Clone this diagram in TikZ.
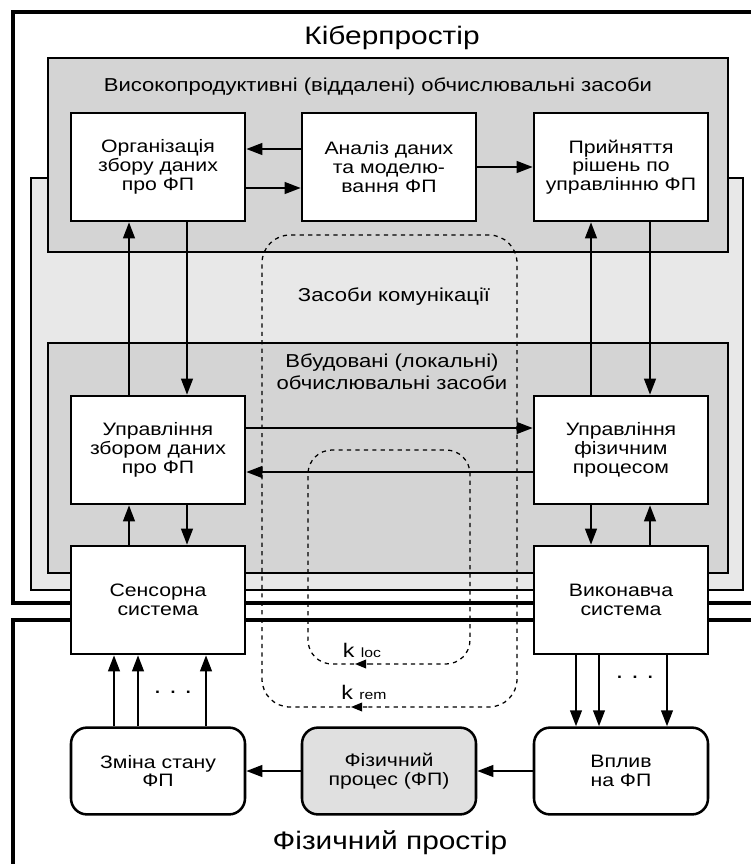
\documentclass[tikz,border=0pt]{standalone}
\usepackage{fontspec}
\setmainfont[FakeStretch=1.18]{Liberation Sans}
\usetikzlibrary{arrows.meta,decorations.markings}
\def\darr{\draw[flow]}
\def\dloop{\draw[fbloop]}

\begin{document}
\begin{tikzpicture}[x=0.25mm,y=-0.25mm,
    box/.style={draw,line width=1.8pt,fill=white,align=center,inner sep=0pt,
                minimum width=43.5mm,minimum height=27mm,
                font=\fontsize{12.8}{13.3}\selectfont},
    rbox/.style={box,rounded corners=4mm,minimum height=21.7mm},
    area/.style={draw,line width=1.9pt},
    border/.style={line width=2.6pt},
    flow/.style={line width=1.6pt,-{Triangle[length=4mm,width=2.9mm]}},
    fbloop/.style={dashed,line width=0.9pt,
                   postaction={decorate},
                   decoration={markings,
                     mark=at position 4mm with {\arrow{Triangle[length=2.8mm,width=2.2mm]}}}},
    title/.style={font=\fontsize{18}{20}\selectfont},
    label/.style={align=center,font=\fontsize{13.3}{15.5}\selectfont}]
  \useasboundingbox (0,0) rectangle (751,864);
  % spaces
  \draw[border] (751,12) -- (13,12) -- (13,603) -- (751,603);
  \draw[border] (751,620) -- (13,620) -- (13,870);
  \draw[area,fill=black!9] (31,178) rectangle (743,590);
  \draw[area,fill=black!17] (48,58) rectangle (728,252);
  \draw[area,fill=black!17] (48,343) rectangle (728,573);
  \node[title] (cyber) at (392,38) {Кіберпростір};
  \node[label] (hpc) at (378,87) {Високопродуктивні (віддалені) обчислювальні засоби};
  \node[label] (comm) at (394,297) {Засоби комунікації};
  \node[label] (emb) at (392,372) {Вбудовані (локальні)\\обчислювальні засоби};
  \node[title] (phys) at (390,843) {Фізичний простір};
  % feedback loops
  \dloop[rounded corners=7mm] (395,707) -- (262,707) -- (262,235) -- (517,235) -- (517,707) -- cycle;
  \dloop[rounded corners=6mm] (395,664) -- (308,664) -- (308,450) -- (470,450) -- (470,664) -- cycle;
  \node[font=\fontsize{14}{16}\selectfont] (kloc) at (362,650) {k {\fontsize{9.5}{11}\selectfont loc}};
  \node[font=\fontsize{14}{16}\selectfont] (krem) at (364,692) {k {\fontsize{9.5}{11}\selectfont rem}};
  % blocks
  \node[box] (org) at (158,167) {Організація\\збору даних\\про ФП};
  \node[box] (anal) at (389,167) {Аналіз даних\\та моделю-\\вання ФП};
  \node[box] (dec) at (621,167) {Прийняття\\рішень по\\управлінню ФП};
  \node[box] (mdata) at (158,450) {Управління\\збором даних\\про ФП};
  \node[box] (mproc) at (621,450) {Управління\\фізичним\\процесом};
  \node[box] (sens) at (158,600) {Сенсорна\\система};
  \node[box] (act) at (621,600) {Виконавча\\система};
  \node[rbox] (chg) at (158,771) {Зміна стану\\ФП};
  \node[rbox,fill=black!12] (proc) at (389,771) {Фізичний\\процес (ФП)};
  \node[rbox] (infl) at (621,771) {Вплив\\на ФП};
  % connections
  \darr (anal.west |- 0,149) -- (org.east |- 0,149);
  \darr (org.east |- 0,188) -- (anal.west |- 0,188);
  \darr (anal) -- (dec);
  \darr (mdata.north -| 129,0) -- (org.south -| 129,0);
  \darr (org.south -| 187,0) -- (mdata.north -| 187,0);
  \darr (mproc.north -| 591,0) -- (dec.south -| 591,0);
  \darr (dec.south -| 650,0) -- (mproc.north -| 650,0);
  \darr (mdata.east |- 0,428) -- (mproc.west |- 0,428);
  \darr (mproc.west |- 0,472) -- (mdata.east |- 0,472);
  \darr (sens.north -| 129,0) -- (mdata.south -| 129,0);
  \darr (mdata.south -| 187,0) -- (sens.north -| 187,0);
  \darr (mproc.south -| 591,0) -- (act.north -| 591,0);
  \darr (act.north -| 650,0) -- (mproc.south -| 650,0);
  \foreach \x in {114,138,206} \darr (chg.north -| \x,0) -- (sens.south -| \x,0);
  \foreach \x in {576,599,667} \darr (act.south -| \x,0) -- (infl.north -| \x,0);
  \node[font=\fontsize{16}{18}\selectfont] (sdots) at (173,692) {.\hspace{2mm}.\hspace{2mm}.};
  \node[font=\fontsize{16}{18}\selectfont] (adots) at (635,677) {.\hspace{2mm}.\hspace{2mm}.};
  \darr (infl) -- (proc);
  \darr (proc) -- (chg);
\end{tikzpicture}
\end{document}
